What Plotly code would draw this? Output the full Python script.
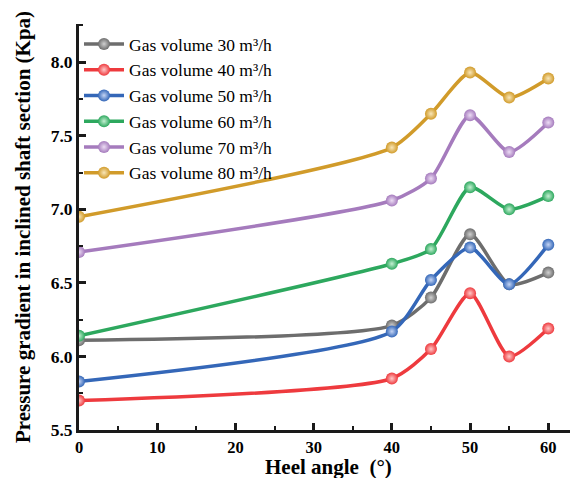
import plotly.graph_objects as go

heel_angle = [0, 40, 45, 50, 55, 60]
series_names = ["Gas volume 30 m³/h", "Gas volume 40 m³/h",
                "Gas volume 50 m³/h", "Gas volume 60 m³/h",
                "Gas volume 70 m³/h", "Gas volume 80 m³/h"]
gas_30 = [6.11, 6.21, 6.40, 6.83, 6.49, 6.57]
gas_40 = [5.70, 5.85, 6.05, 6.43, 6.00, 6.19]
gas_50 = [5.83, 6.17, 6.52, 6.74, 6.49, 6.76]
gas_60 = [6.14, 6.63, 6.73, 7.15, 7.00, 7.09]
gas_70 = [6.71, 7.06, 7.21, 7.64, 7.39, 7.59]
gas_80 = [6.95, 7.42, 7.65, 7.93, 7.76, 7.89]
colors = ["#6d6d6d", "#ee3a3e", "#3467b8", "#2da85e", "#a57bbd", "#d19b2a"]
light = ["#d0d0d0", "#ffc8c8", "#c4d4f4", "#c4f0d2", "#ecdcf4", "#f8e6b8"]

fig = go.Figure()
for name, ys, c, lc in zip(series_names, [gas_30, gas_40, gas_50, gas_60, gas_70, gas_80], colors, light):
    fig.add_trace(go.Scatter(
        x=heel_angle, y=ys, name=name, mode="lines+markers",
        line=dict(color=c, width=3.5, shape="spline", smoothing=0.65),
        marker=dict(color=c, size=12, symbol="circle",
                    gradient=dict(type="radial", color=lc),
                    line=dict(width=0)),
    ))

font_serif = "Liberation Serif, Times New Roman, serif"
# page body has an 8px margin, so the figure is 570x470 to fill the 578x478 window
fig.update_layout(
    width=570, height=470,
    margin=dict(l=71, r=0, t=16, b=48),
    plot_bgcolor="white", paper_bgcolor="white",
    font=dict(family=font_serif, color="black"),
    showlegend=True,
    legend=dict(x=0.0, y=0.995, xanchor="left", yanchor="top",
                bgcolor="rgba(0,0,0,0)", font=dict(size=17.5, family=font_serif),
                tracegroupgap=0, itemwidth=40),
    xaxis=dict(range=[0, 63.8], tickvals=[0, 10, 20, 30, 40, 50, 60], automargin=False,
               showline=True, linecolor="#1a1a1a", linewidth=3,
               ticks="inside", ticklen=7, tickwidth=3, tickcolor="#1a1a1a",
               minor=dict(ticks="inside", ticklen=4, tickwidth=2, dtick=5, tickcolor="#1a1a1a"),
               showgrid=False, zeroline=False,
               tickfont=dict(size=16.5, family=font_serif, color="black", weight="bold")),
    yaxis=dict(range=[5.5, 8.26], tickvals=[5.5, 6.0, 6.5, 7.0, 7.5, 8.0], automargin=False,
               ticktext=["5.5", "6.0", "6.5", "7.0", "7.5", "8.0"],
               showline=True, linecolor="#1a1a1a", linewidth=3,
               ticks="inside", ticklen=7, tickwidth=3, tickcolor="#1a1a1a",
               minor=dict(ticks="inside", ticklen=4, tickwidth=2, dtick=0.25, tickcolor="#1a1a1a"),
               showgrid=False, zeroline=False,
               tickfont=dict(size=17.5, family=font_serif, color="black", weight="bold")),
    annotations=[
        dict(text="Heel angle  (°)", xref="paper", yref="paper", x=0.5, y=0,
             yshift=-51, xanchor="center", yanchor="bottom", showarrow=False,
             font=dict(size=21, family=font_serif, color="black", weight="bold")),
        dict(text="Pressure gradient in inclined shaft section (Kpa)", xref="paper", yref="paper",
             x=0, y=0.5, xshift=-70, xanchor="left", yanchor="middle", textangle=-90,
             showarrow=False,
             font=dict(size=21, family=font_serif, color="black", weight="bold")),
    ],
)
fig.write_html("out.html")
